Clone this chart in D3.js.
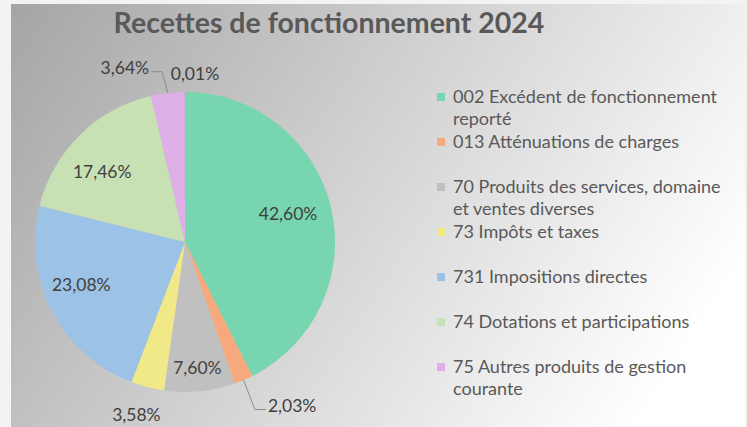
<!DOCTYPE html>
<html>
<head>
<meta charset="utf-8" />
<title>Recettes de fonctionnement 2024</title>
<style>
    body { margin: 0; background: #f3f3f3; }
    svg { display: block; }
</style>
</head>
<body>
<script src="https://cdn.jsdelivr.net/npm/d3@7"></script>
<script>
    // chart data (percentages)
    var categories = [
        '002 Excédent de fonctionnement reporté',
        '013 Atténuations de charges',
        '70 Produits des services, domaine et ventes diverses',
        '73 Impôts et taxes',
        '731 Impositions directes',
        '74 Dotations et participations',
        '75 Autres produits de gestion courante',
        '76 Produits financiers'
    ];
    var values = [42.60, 2.03, 7.60, 3.58, 23.08, 17.46, 3.64, 0.01];
    var colors = ['#77d5af', '#f5a97c', '#c0c0c0', '#f1e888', '#9cc2e6', '#c7e1b5', '#dfb0e8', '#9e8fd0'];
    var title = 'Recettes de fonctionnement 2024';

    var width = 747,
        height = 427;

    var svg = d3.select('body').append('svg')
        .attr('width', width)
        .attr('height', height);

    // background gradient, dark top-left to white bottom-right
    var grad = svg.append('defs').append('linearGradient')
        .attr('id', 'bg')
        .attr('gradientUnits', 'userSpaceOnUse')
        .attr('x1', 11).attr('y1', 4)
        .attr('x2', 644).attr('y2', 415);
    grad.append('stop').attr('offset', 0).attr('stop-color', '#a5a5a5');
    grad.append('stop').attr('offset', 1).attr('stop-color', '#ffffff');

    svg.append('rect')
        .attr('x', 11).attr('y', 4)
        .attr('width', 734).attr('height', height - 4)
        .attr('fill', 'url(#bg)');

    svg.append('text')
        .attr('x', 329).attr('y', 33)
        .attr('text-anchor', 'middle')
        .style('font-family', 'Lato, sans-serif')
        .style('font-weight', 'bold')
        .style('font-size', '28.5px')
        .attr('fill', '#595959')
        .text(title);

    var data = categories.map(function(c, i) { return { name: c, value: values[i], color: colors[i] }; });

    var cx = 185, cy = 242, radius = 150;

    var pie = d3.pie().sort(null).value(function(d) { return d.value; });
    var arc = d3.arc().innerRadius(0).outerRadius(radius);
    var arcs = pie(data);

    var g = svg.append('g').attr('transform', 'translate(' + cx + ',' + cy + ')');

    g.selectAll('.slice')
        .data(arcs)
    .enter().append('path')
        .attr('class', 'slice')
        .attr('d', arc)
        .attr('fill', function(d) { return d.data.color; });

    // data labels: radius factor along the slice's middle angle, plus a small nudge
    var labelLayout = [
        { k: 0.72, dx: -2, dy: -3, leader: false },
        { k: 1.30, dx: 31, dy: -16, leader: true },
        { k: 0.84, dx: 0, dy: 0, leader: false },
        { k: 1.19, dx: -4, dy: 0, leader: false },
        { k: 0.75, dx: -4, dy: -9, leader: false },
        { k: 0.72, dx: -7, dy: 7, leader: false },
        { k: 1.23, dx: -39, dy: 9, leader: true },
        { k: 1.12, dx: 10, dy: 0, leader: false }
    ];

    var fr = d3.formatLocale({ decimal: ',', thousands: ' ', grouping: [3], currency: ['', ' €'] });
    var fmt = fr.format('.2f');

    arcs.forEach(function(d, i) {
        var lay = labelLayout[i];
        var a = (d.startAngle + d.endAngle) / 2;
        var x = Math.sin(a) * radius * lay.k + lay.dx;
        var y = -Math.cos(a) * radius * lay.k + lay.dy;

        var t = g.append('text')
            .attr('x', x).attr('y', y)
            .attr('dy', '0.35em')
            .attr('text-anchor', 'middle')
            .style('font-family', 'Lato, sans-serif')
            .style('font-size', '17.5px')
            .attr('fill', '#404040')
            .text(fmt(d.value) + '%');

        if (lay.leader) {
            var bb = t.node().getBBox();
            var ex = Math.sin(a) * radius, ey = -Math.cos(a) * radius;
            var ly = y + 4;
            var ax = x > ex ? bb.x - 2 : bb.x + bb.width + 2;
            var bx = x > ex ? ax - 11 : ax + 11;
            g.append('polyline')
                .attr('points', [[ex, ey], [bx, ly], [ax, ly]].map(function(p) { return p.join(','); }).join(' '))
                .attr('fill', 'none')
                .attr('stroke', '#8c8c8c')
                .attr('stroke-width', 1);
        }
    });

    // legend, fixed slot pitch, long names wrap onto a second line
    var legX = 437, legY = 97, legPitch = 45, lineH = 22, maxW = 278;

    var legend = svg.append('g');
    data.forEach(function(d, i) {
        var y = legY + i * legPitch;
        if (y > height - 20) return; // no room left, like the original
        legend.append('rect')
            .attr('x', legX).attr('y', y - 4)
            .attr('width', 8).attr('height', 8)
            .attr('fill', d.color);

        var t = legend.append('text')
            .attr('x', legX + 16).attr('y', y)
            .attr('dy', '0.35em')
            .style('font-family', 'Lato, sans-serif')
            .style('font-size', '18px')
            .attr('fill', '#595959');

        var words = d.name.split(' '), line = [];
        var span = t.append('tspan').attr('x', legX + 16);
        words.forEach(function(w) {
            line.push(w);
            span.text(line.join(' '));
            if (span.node().getComputedTextLength() > maxW && line.length > 1) {
                line.pop();
                span.text(line.join(' '));
                line = [w];
                span = t.append('tspan').attr('x', legX + 16).attr('dy', lineH).text(w);
            }
        });
    });
</script>
</body>
</html>
